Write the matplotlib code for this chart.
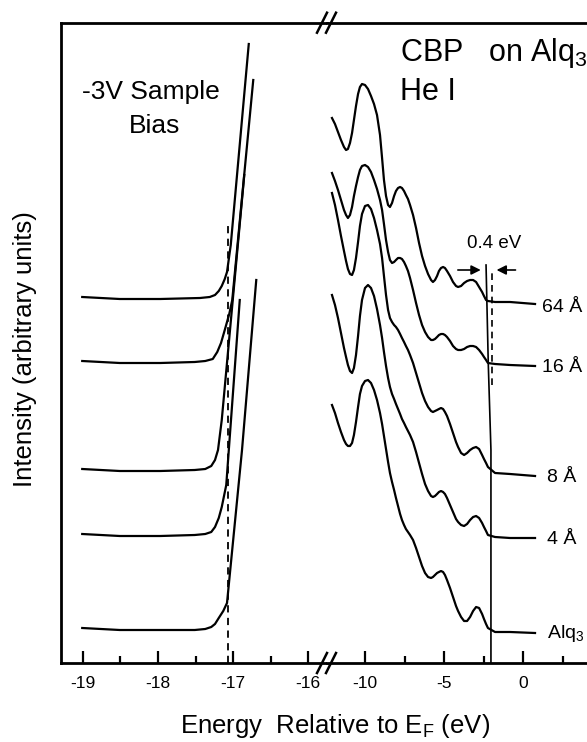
import matplotlib
matplotlib.use("Agg")
import matplotlib.pyplot as plt
from matplotlib.lines import Line2D

plt.rcParams['font.family'] = ['Liberation Sans', 'DejaVu Sans']
plt.rcParams['mathtext.default'] = 'regular'

# ---- data (energy in eV, intensity in arbitrary units) ----
labels = ["64 Å", "16 Å", "8 Å", "4 Å", "Alq$_3$"]

# secondary electron cutoff (left panel)
cut_e = [
    [-19.01, -18.51, -17.97, -17.44, -17.31, -17.24, -17.19, -17.15, -17.11, -17.08, -17.03, -16.79],
    [-19.01, -18.51, -17.97, -17.51, -17.37, -17.27, -17.21, -17.16, -17.11, -17.05, -17.01, -16.73],
    [-19.01, -18.51, -17.97, -17.51, -17.37, -17.29, -17.24, -17.20, -17.15, -17.04, -16.85],
    [-19.01, -18.51, -17.97, -17.51, -17.37, -17.29, -17.24, -17.19, -17.15, -17.09, -16.91],
    [-19.01, -18.51, -17.97, -17.51, -17.37, -17.29, -17.24, -17.19, -17.13, -17.08, -16.88, -16.69],
]
cut_i = [
    [366, 364, 364, 365, 366, 368, 372, 377, 384, 391, 418, 619],
    [302, 300, 300, 301, 302, 304, 311, 320, 333, 349, 363, 583],
    [194, 192, 192, 193, 194, 197, 203, 213, 243, 333, 488],
    [129, 127, 127, 128, 129, 131, 136, 145, 156, 178, 363],
    [35, 33, 33, 33, 34, 36, 39, 45, 52, 60, 213, 383],
]

# valence band region (right panel), all spectra read on the same energy grid
vb_e = [-12.09, -11.90, -11.71, -11.52, -11.33, -11.20, -11.08, -10.95, -10.82, -10.70, -10.57,
        -10.44, -10.32, -10.19, -10.00, -9.81, -9.62, -9.43, -9.24, -9.05, -8.92, -8.80, -8.67,
        -8.54, -8.42, -8.29, -8.16, -8.04, -7.91, -7.78, -7.66, -7.53, -7.41, -7.28, -7.15, -6.96,
        -6.77, -6.58, -6.39, -6.20, -6.01, -5.82, -5.70, -5.57, -5.44, -5.32, -5.19, -5.06, -4.94,
        -4.81, -4.62, -4.43, -4.24, -4.11, -3.92, -3.73, -3.54, -3.35, -3.16, -2.97, -2.78, -2.59,
        -2.47, -2.34, -2.22, -1.77, -0.82, 0.76]
vb_64 = [545, 539, 531, 523, 516, 513, 514, 520, 530, 543, 557, 569, 576, 579, 578, 574, 567, 559,
         548, 528, 505, 483, 467, 458, 456, 460, 467, 472, 475, 476, 475, 472, 468, 464, 458, 448,
         435, 420, 407, 397, 389, 383, 381, 383, 387, 392, 395, 396, 395, 392, 387, 381, 377, 376,
         377, 380, 382, 383, 383, 381, 376, 371, 367, 363, 362, 361, 361, 359]
vb_16 = [490, 482, 473, 463, 453, 448, 445, 448, 456, 467, 477, 486, 493, 497, 498, 496, 491, 483,
         474, 463, 453, 439, 423, 411, 403, 400, 401, 403, 405, 405, 404, 401, 397, 392, 385, 373,
         360, 348, 338, 331, 326, 323, 323, 324, 326, 328, 329, 329, 328, 326, 322, 317, 314, 313,
         313, 314, 316, 317, 317, 316, 313, 309, 306, 303, 300, 299, 298, 297]
vb_8 = [470, 458, 443, 427, 412, 402, 394, 389, 388, 393, 405, 421, 437, 449, 457, 458, 454, 445,
        433, 419, 405, 387, 368, 353, 345, 341, 338, 336, 333, 329, 325, 321, 317, 313, 308, 300,
        290, 280, 270, 262, 256, 252, 251, 252, 253, 254, 255, 254, 251, 247, 239, 230, 221, 216,
        210, 208, 210, 213, 215, 216, 214, 208, 204, 200, 196, 190, 189, 187]
vb_4 = [368, 358, 345, 330, 315, 306, 298, 292, 290, 295, 308, 327, 347, 363, 375, 378, 375, 367,
        354, 338, 325, 311, 297, 285, 276, 269, 264, 259, 254, 249, 244, 240, 236, 232, 228, 221,
        211, 200, 189, 179, 172, 167, 166, 167, 169, 171, 172, 171, 169, 165, 158, 151, 144, 141,
        138, 137, 139, 143, 146, 147, 145, 140, 136, 132, 128, 126, 125, 125]
vb_alq = [258, 250, 240, 231, 223, 219, 217, 217, 220, 228, 241, 256, 269, 277, 282, 283, 280, 273,
          263, 250, 239, 227, 214, 201, 190, 181, 173, 165, 157, 149, 143, 138, 134, 131, 128, 123,
          115, 106, 97, 90, 86, 85, 86, 88, 90, 91, 92, 91, 88, 83, 75, 66, 57, 52, 46, 42, 42, 46,
          52, 56, 55, 49, 44, 39, 35, 31, 31, 30]
vb_i = [vb_64, vb_16, vb_8, vb_4, vb_alq]

label_e = [1.2, 1.2, 1.5, 1.5, 1.5]
label_i = [356, 295, 186, 123, 30]

fig = plt.figure(figsize=(5.87, 7.42), dpi=100)
y0, h = 1 - 663 / 742, (663 - 22.7) / 742
ax1 = fig.add_axes([61 / 587, y0, (327 - 61) / 587, h])
ax2 = fig.add_axes([327 / 587, y0, (700 - 327) / 587, h])

lw = 1.6
for e, i in zip(cut_e, cut_i):
    ax1.plot(e, i, color='black', lw=lw, solid_joinstyle='round')
for i in vb_i:
    ax2.plot(vb_e, i, color='black', lw=lw, solid_joinstyle='round')

# cutoff and onset markers
ax1.plot([-17.07, -17.07], [0, 440], color='black', lw=1.3, ls=(0, (4, 3)))
ax2.plot([-2.03, -2.03, -2.2, -2.34], [0, 213, 300, 398], color='black', lw=1.2)
ax2.plot([-1.96, -1.96], [278, 393], color='black', lw=1.2, ls=(0, (4, 3)))
ax2.annotate('', xy=(-2.5, 393), xytext=(-4.3, 393),
             arrowprops=dict(arrowstyle='-|>', color='black', lw=1.2, mutation_scale=14))
ax2.annotate('', xy=(-1.85, 393), xytext=(-0.3, 393),
             arrowprops=dict(arrowstyle='-|>', color='black', lw=1.2, mutation_scale=14))
ax2.text(-1.8, 420, '0.4 eV', fontsize=13.5, ha='center', va='center')

for lab, e, i in zip(labels, label_e, label_i):
    ax2.text(e, i, lab, fontsize=14, ha='left', va='center', clip_on=False)

ax1.text(-18.1, 571, '-3V Sample', fontsize=19, ha='center', va='center')
ax1.text(-18.05, 537, 'Bias', fontsize=19, ha='center', va='center')
ax2.text(-7.78, 610, 'CBP   on Alq$_3$', fontsize=22, ha='left', va='center', clip_on=False)
ax2.text(-7.78, 571, 'He I', fontsize=22, ha='left', va='center')

for ax in (ax1, ax2):
    ax.set_ylim(0, 640.3)
    ax.set_yticks([])
    for s in ax.spines.values():
        s.set_linewidth(2)
    ax.tick_params(axis='x', which='both', direction='in', labelsize=12.5, pad=9, width=1.6)
    ax.tick_params(axis='x', which='major', length=9)
    ax.tick_params(axis='x', which='minor', length=5)

ax1.set_xlim(-19.293, -15.747)
ax1.set_xticks([-19, -18, -17, -16])
ax1.set_xticklabels(['-19', '-18', '-17', '-16'])
ax1.set_xticks([-18.5, -17.5, -16.5], minor=True)
ax1.spines['right'].set_visible(False)

ax2.set_xlim(-12.405, 11.2)
ax2.set_xticks([-10, -5, 0])
ax2.set_xticklabels(['-10', '-5', '0'])
ax2.set_xticks([-7.5, -2.5, 2.5], minor=True)
ax2.spines['left'].set_visible(False)

# axis break marks
for yb in (663, 22.7):
    for dx in (0, 9):
        fig.add_artist(Line2D([(317 + dx) / 587, (327 + dx) / 587],
                              [1 - (yb + 10) / 742, 1 - (yb - 10) / 742],
                              color='black', lw=1.8))

fig.text(335 / 587, 1 - 733 / 742, 'Energy  Relative to E$_F$ (eV)', fontsize=18.5,
         ha='center', va='baseline')
fig.text(25 / 587, 1 - 349 / 742, 'Intensity (arbitrary units)', fontsize=18.5,
         ha='center', va='center', rotation=90)

fig.savefig('out.png', dpi=100)
